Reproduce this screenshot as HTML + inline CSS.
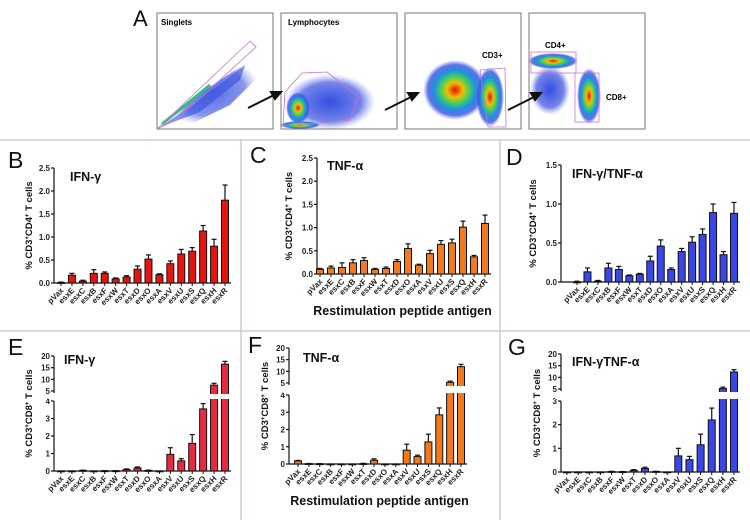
<!DOCTYPE html>
<html><head><meta charset="utf-8">
<style>
body{margin:0;background:#fff;}
svg{display:block;font-family:"Liberation Sans",Arial,sans-serif;}
.tk{font-size:8px;font-weight:bold;fill:#222;}
.xl{font-size:8px;font-weight:bold;fill:#222;}
</style></head>
<body>
<svg id="fig" width="750" height="520" viewBox="0 0 750 520">
<defs>
<radialGradient id="hot" cx="50%" cy="50%" r="50%">
<stop offset="0" stop-color="#e01010"/><stop offset="0.25" stop-color="#f0c000"/><stop offset="0.45" stop-color="#40d060"/><stop offset="0.65" stop-color="#2090e0"/><stop offset="0.85" stop-color="#3a50e0" stop-opacity="0.8"/><stop offset="1" stop-color="#6070f0" stop-opacity="0"/>
</radialGradient>
<radialGradient id="cool" cx="50%" cy="50%" r="50%">
<stop offset="0" stop-color="#3050e0"/><stop offset="0.7" stop-color="#3a50e0" stop-opacity="0.7"/><stop offset="1" stop-color="#7080f0" stop-opacity="0"/>
</radialGradient>
</defs>
<g stroke="#c5ced2" stroke-width="1.5" fill="none">
<line x1="0" y1="140" x2="750" y2="140"/>
<line x1="0" y1="331" x2="750" y2="331"/>
<line x1="241" y1="140" x2="241" y2="520"/>
<line x1="500" y1="140" x2="500" y2="520"/>
</g>
<g>
<text x="133" y="26" font-size="22" fill="#111">A</text>
<g>
<rect x="157" y="13" width="116" height="116" fill="#fff" stroke="#777"/>
<polygon points="160,127 175,112 220,80 258,55 260,75 230,105 195,122" fill="url(#cool)" opacity="0.85"/>
<polygon points="160,127 185,110 215,88 245,65 240,80 200,112" fill="#3a50e0" opacity="0.6"/>
<line x1="162" y1="124" x2="210" y2="85" stroke="#30c080" stroke-width="3"/>
<polygon points="157,129 250,41 256,47 176,120" fill="none" stroke="#d070d0" stroke-width="0.8"/>
<text x="161" y="25" font-size="8" font-weight="bold">Singlets</text>
</g>
<g>
<rect x="281" y="13" width="116" height="116" fill="#fff" stroke="#777"/>
<ellipse cx="330" cy="102" rx="45" ry="28" fill="url(#cool)"/>
<ellipse cx="298" cy="108" rx="12" ry="16" fill="url(#hot)"/>
<ellipse cx="300" cy="125" rx="20" ry="4" fill="url(#hot)"/>
<polygon points="283,126 285,92 302,73 327,72 358,96 350,120 300,125" fill="none" stroke="#d070d0" stroke-width="0.8"/>
<text x="288" y="25" font-size="8" font-weight="bold">Lymphocytes</text>
</g>
<g>
<rect x="405" y="13" width="116" height="116" fill="#fff" stroke="#777"/>
<ellipse cx="455" cy="90" rx="32" ry="30" fill="url(#hot)"/>
<ellipse cx="490" cy="97" rx="14" ry="30" fill="url(#hot)"/>
<polygon points="480,70 505,68 506,127 488,127" fill="none" stroke="#d070d0" stroke-width="0.8"/>
<text x="482" y="58" font-size="8" font-weight="bold">CD3+</text>
</g>
<g>
<rect x="529" y="13" width="116" height="116" fill="#fff" stroke="#777"/>
<ellipse cx="550" cy="90" rx="20" ry="25" fill="url(#cool)"/>
<ellipse cx="553" cy="61" rx="25" ry="8" fill="url(#hot)"/>
<ellipse cx="589" cy="96" rx="12" ry="28" fill="url(#hot)"/>
<rect x="531" y="52" width="45" height="21" fill="none" stroke="#d070d0" stroke-width="0.8"/>
<rect x="575" y="73" width="24" height="49" fill="none" stroke="#d070d0" stroke-width="0.8"/>
<text x="545" y="48" font-size="8" font-weight="bold">CD4+</text>
<text x="606" y="100" font-size="8" font-weight="bold">CD8+</text>
</g>
<g stroke="#111" stroke-width="2" fill="#111">
<line x1="248" y1="108" x2="276" y2="94"/><polygon points="281,92 271,92 275,99"/>
<line x1="385" y1="110" x2="413" y2="96"/><polygon points="418,93 408,93 412,100"/>
<line x1="508" y1="110" x2="536" y2="96"/><polygon points="541,93 531,93 535,100"/>
</g>
</g>
<g id="charts"></g>
</svg>
<script>
const categories = ["pVax","esxE","esxC","esxB","esxF","esxW","esxT","esxD","esxO","esxA","esxV","esxU","esxS","esxQ","esxH","esxR"];
const valuesB = [0.01,0.17,0.04,0.21,0.21,0.09,0.13,0.30,0.52,0.18,0.42,0.63,0.69,1.13,0.80,1.80];
const errorsB = [0.01,0.04,0.02,0.08,0.03,0.02,0.03,0.07,0.09,0.02,0.06,0.10,0.08,0.12,0.15,0.33];
const valuesC = [0.10,0.13,0.14,0.24,0.29,0.10,0.12,0.27,0.55,0.19,0.44,0.64,0.67,1.01,0.37,1.09];
const errorsC = [0.02,0.04,0.10,0.07,0.06,0.02,0.03,0.04,0.10,0.02,0.07,0.08,0.08,0.13,0.03,0.18];
const valuesD = [0.00,0.13,0.01,0.18,0.16,0.08,0.10,0.27,0.46,0.16,0.39,0.51,0.61,0.89,0.35,0.88];
const errorsD = [0.01,0.05,0.01,0.06,0.04,0.01,0.01,0.06,0.08,0.02,0.04,0.07,0.07,0.11,0.04,0.14];
const valuesE = [0,0,0.03,0,0.01,0.01,0.08,0.17,0.03,0,0.95,0.58,1.58,3.55,7.5,16.5];
const errorsE = [0,0,0.02,0,0.01,0.01,0.04,0.06,0.02,0,0.38,0.12,0.5,0.3,0.8,1.2];
const valuesF = [0.18,0.02,0.01,0,0,0,0.02,0.22,0,0,0.8,0.43,1.28,2.85,5.3,12];
const errorsF = [0.03,0.01,0.01,0,0,0,0.02,0.08,0,0,0.35,0.08,0.45,0.4,0.5,1.0];
const valuesG = [0,0,0,0,0.02,0.01,0.07,0.15,0.02,0,0.68,0.52,1.15,2.2,5.2,12.3];
const errorsG = [0,0,0,0,0.01,0.01,0.03,0.05,0.01,0,0.32,0.14,0.45,0.5,0.6,1.0];
const ticksB = [0,0.5,1.0,1.5,2.0,2.5];
const ticksD = [0,0.5,1.0,1.5];
const ticksLow4 = [0,1,2,3,4];
const ticksLow3 = [0,1,2,3];
const ticksUpper = [5,10,15,20];

const NS="http://www.w3.org/2000/svg";
const root=document.getElementById('charts');
function mk(tag,attrs,parent){const e=document.createElementNS(NS,tag);for(const k in attrs)e.setAttribute(k,attrs[k]);(parent||root).appendChild(e);return e;}

function chart(c){
  const g=mk('g',{});
  
  
  function y(v){
    if(!c.broken) return c.y0-(v/c.max)*(c.y0-c.yTop);
    if(v<=c.lowMax) return c.y0-(v/c.lowMax)*(c.y0-c.yLowTop);
    if(v<5) return c.yLowTop;
    return c.y5-((v-5)/15)*(c.y5-c.y20);
  }
  const n=categories.length;
  const step=(c.xLast-c.xFirst)/(n-1);
  function x(i){return c.xFirst+i*step;}
  const bw=7;
  const ax=mk('g',{stroke:'#111','stroke-width':1.2},g);
  
  
  if(c.broken){
    mk('line',{x1:c.ax,y1:c.y0,x2:c.ax,y2:c.yLowTop},ax);
    mk('line',{x1:c.ax,y1:c.y5+2,x2:c.ax,y2:c.y20},ax);
  } else mk('line',{x1:c.ax,y1:c.y0,x2:c.ax,y2:c.yTop},ax);
  mk('line',{x1:c.ax,y1:c.y0,x2:x(n-1)+6,y2:c.y0},ax);
  const allTicks=c.broken?c.lowTicks.concat(ticksUpper):c.ticks;
  allTicks.forEach(t=>{
    const yy=y(t);
    mk('line',{x1:c.ax-3,y1:yy,x2:c.ax,y2:yy},ax);
    const tx=mk('text',{x:c.ax-4,y:yy+3,'text-anchor':'end',class:'tk',stroke:'none'},g);
    tx.textContent=c.broken?String(t):t.toFixed(1);
    
    
  });
  categories.forEach((cat,i)=>{
    const v=c.values[i],e=c.errors[i];
    const top=y(v), et=y(v+e);
    const xx=x(i);
    mk('line',{x1:xx,y1:top,x2:xx,y2:et,stroke:'#111','stroke-width':1.2},g);
    mk('line',{x1:xx-2.5,y1:et,x2:xx+2.5,y2:et,stroke:'#111','stroke-width':1.2},g);
    const r=mk('rect',{x:xx-bw/2,y:top,width:bw,height:Math.max(0.8,c.y0-top),fill:c.color,stroke:'#111','stroke-width':1},g);
    
    
    mk('line',{x1:xx,y1:c.y0,x2:xx,y2:c.y0+3,stroke:'#111','stroke-width':1},g);
    const lb=mk('text',{x:xx+3,y:c.y0+8,'text-anchor':'end',class:'xl',transform:`rotate(-45 ${xx+3} ${c.y0+8})`},g);
    lb.textContent=cat;
    
    
  });
  if(c.broken){
    const gap=mk('rect',{x:c.ax-6,y:c.y5+3,width:x(n-1)-c.ax+12,height:c.yLowTop-c.y5-5,fill:'#fff'},g);
    
    
  }
  const L=mk('text',{x:c.lx,y:c.ly,'font-size':23,fill:'#111'},g);L.textContent=c.letter;
  
  
  const T=mk('text',{x:c.tx,y:c.ty,'font-size':12.5,'font-weight':'bold',fill:'#111'},g);T.textContent=c.title;
  
  
  const yc=(c.y0+(c.broken?c.y20:c.yTop))/2;
  const Y=mk('text',{x:c.ylx,y:yc,'font-size':9.5,'font-weight':'bold','text-anchor':'middle',fill:'#111',transform:`rotate(-90 ${c.ylx} ${yc})`},g);
  Y.innerHTML='% CD3<tspan baseline-shift="super" font-size="6">+</tspan>CD'+c.cd+'<tspan baseline-shift="super" font-size="6">+</tspan> T cells';
  
  
  if(c.xtitle){
    const X=mk('text',{x:(c.xFirst+c.xLast)/2,y:c.xty,'font-size':12.5,'font-weight':'bold','text-anchor':'middle',fill:'#111'},g);
    X.textContent='Restimulation peptide antigen';
    
    
  }
}
const red='#e5140f', red2='#e82a40', orange='#f07a1c', blue='#3a46e6';
chart({name:'chart-b',letter:'B',lx:8,ly:168,title:'IFN-γ',tx:70,ty:181,values:valuesB,errors:errorsB,color:red,ax:54,y0:283,yTop:168,max:2.5,ticks:ticksB,xFirst:61,xLast:225,ylx:32,cd:4});
chart({name:'chart-c',letter:'C',lx:250,ly:163,title:'TNF-α',tx:327,ty:170,values:valuesC,errors:errorsC,color:orange,ax:317,y0:274,yTop:158,max:2.5,ticks:ticksB,xFirst:320,xLast:485,ylx:292,cd:4,xtitle:true,xty:315});
chart({name:'chart-d',letter:'D',lx:506,ly:165,title:'IFN-γ/TNF-α',tx:572,ty:178,values:valuesD,errors:errorsD,color:blue,ax:561,y0:282,yTop:165,max:1.5,ticks:ticksD,xFirst:577,xLast:734,ylx:536,cd:4});
chart({name:'chart-e',letter:'E',lx:8,ly:355,title:'IFN-γ',tx:64,ty:364,values:valuesE,errors:errorsE,color:red2,broken:true,ax:54,y0:471,yLowTop:401,lowMax:4,y5:391,y20:356,lowTicks:ticksLow4,xFirst:61,xLast:225,ylx:32,cd:8});
chart({name:'chart-f',letter:'F',lx:248,ly:353,title:'TNF-α',tx:303,ty:362,values:valuesF,errors:errorsF,color:orange,broken:true,ax:289,y0:464,yLowTop:395,lowMax:4,y5:383,y20:348,lowTicks:ticksLow4,xFirst:298,xLast:461,ylx:268,cd:8,xtitle:true,xty:505});
chart({name:'chart-g',letter:'G',lx:508,ly:355,title:'IFN-γTNF-α',tx:572,ty:366,values:valuesG,errors:errorsG,color:blue,broken:true,ax:561,y0:472,yLowTop:401,lowMax:3,y5:389,y20:354,lowTicks:ticksLow3,xFirst:567,xLast:734,ylx:540,cd:8});
</script>
</body></html>
